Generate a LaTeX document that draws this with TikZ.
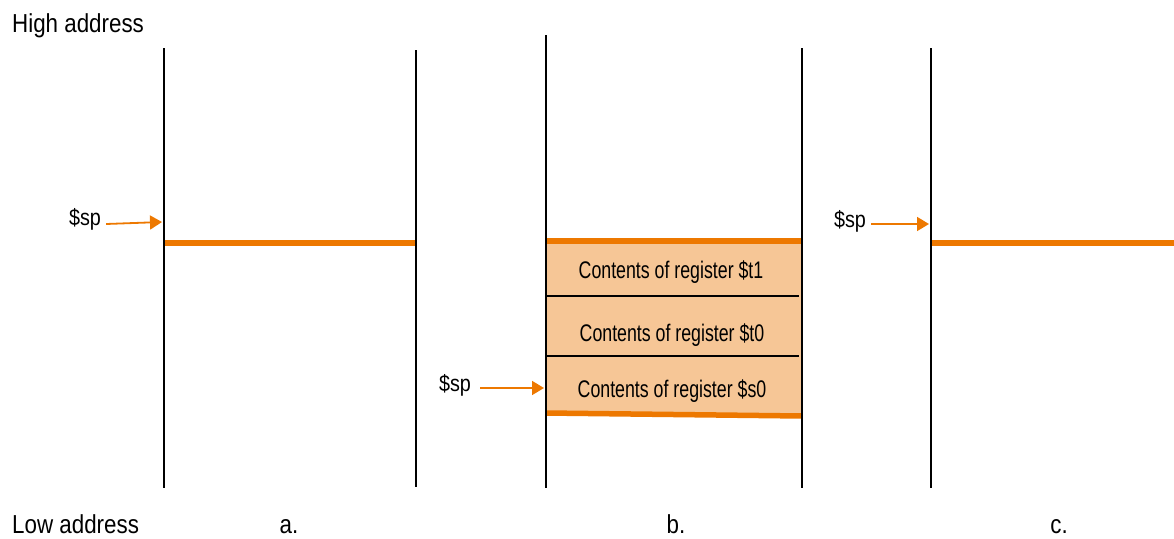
\documentclass[tikz,border=0pt]{standalone}
\usepackage{fontspec}
\setmainfont{Liberation Sans}
\newfontfamily\lblfont[FakeStretch=0.86]{Liberation Sans}
\newfontfamily\boxfont[FakeStretch=0.74]{Liberation Sans}
\usetikzlibrary{arrows.meta}
\definecolor{org}{RGB}{237,120,0}
\definecolor{orgfill}{RGB}{246,198,150}
\tikzset{
  wall/.style={line width=1.8pt, black},
  spline/.style={line width=5.5pt, org},
  divider/.style={line width=1.2pt, black},
  sparrow/.style={line width=1.8pt, org, -{Triangle[length=12pt,width=14pt]}},
  big/.style={font=\lblfont\fontsize{26}{28}\selectfont, inner sep=0pt},
  sp/.style={font=\lblfont\fontsize{23}{25}\selectfont, inner sep=0pt},
  cont/.style={font=\boxfont\fontsize{24}{26}\selectfont, inner sep=0pt},
}
\begin{document}
\begin{tikzpicture}[x=1pt,y=-1pt]
\useasboundingbox (0,0) rectangle (1174,538);
% column a
\coordinate (a1t) at (164,48); \coordinate (a1b) at (164,488);
\coordinate (a2t) at (416,50); \coordinate (a2b) at (416,487);
% column b
\coordinate (b1t) at (546,35); \coordinate (b1b) at (546,488);
\coordinate (b2t) at (802,48); \coordinate (b2b) at (802,488);
% column c
\coordinate (c1t) at (931,48); \coordinate (c1b) at (931,488);

% fill of stack frame in b
\fill[orgfill] (546,241) -- (802,241) -- (802,416) -- (546,413) -- cycle;
\draw[divider] (546,296) -- (799,296);
\draw[divider] (546,356) -- (799,356);
\draw[spline] (546,241) -- (802,241);
\draw[spline] (546,413) -- (802,416);

% orange lines a, c
\draw[spline] (164,243) -- (415,243);
\draw[spline] (931,243) -- (1174,243);

% walls
\draw[wall] (a1t) -- (a1b);
\draw[wall] (a2t) -- (a2b);
\draw[wall] (b1t) -- (b1b);
\draw[wall] (b2t) -- (b2b);
\draw[wall] (c1t) -- (c1b);

% texts
\node[big, anchor=base west] (hi) at (12,32) {High address};
\node[big, anchor=base west] (lo) at (12,533) {Low address};
\node[big, anchor=base] (la) at (289,533) {a.};
\node[big, anchor=base] (lb) at (676,533) {b.};
\node[big, anchor=base] (lc) at (1059,533) {c.};

\node[cont] (r1) at (671,272) {Contents of register \$t1};
\node[cont] (r2) at (672,335) {Contents of register \$t0};
\node[cont] (r3) at (672,391) {Contents of register \$s0};

% $sp arrows
\node[sp] (spa) at (85,219) {\$sp};
\coordinate (spat) at (162,222);
\draw[sparrow] (spa.east) ++(5,5) -- (spat);

\node[sp] (spb) at (455,385) {\$sp};
\coordinate (spbt) at (544,388);
\draw[sparrow] (spb.east) ++(9,3) -- (spbt);

\node[sp] (spc) at (850,221) {\$sp};
\coordinate (spct) at (929,224);
\draw[sparrow] (spc.east) ++(5,3) -- (spct);
\end{tikzpicture}
\end{document}
